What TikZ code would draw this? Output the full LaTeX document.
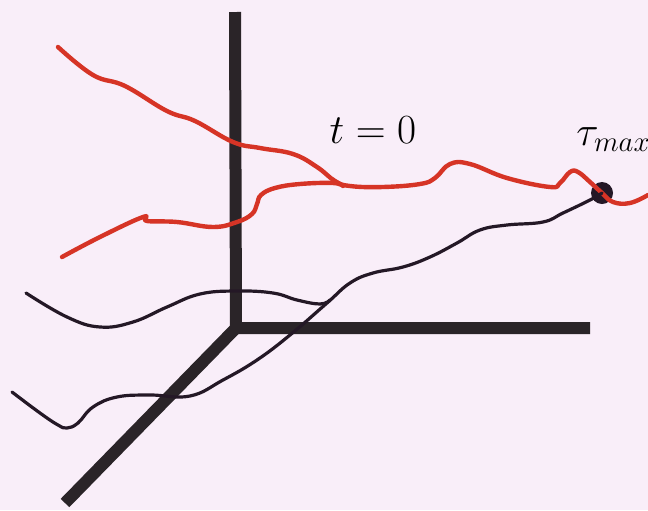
\documentclass[tikz,border=0pt]{standalone}
\definecolor{bgpink}{RGB}{249,238,249}
\definecolor{pathred}{RGB}{214,52,38}
\definecolor{pathdark}{RGB}{36,24,38}
\definecolor{axisdark}{RGB}{42,36,40}
\begin{document}
\begin{tikzpicture}[
    x=0.5pt, y=-0.5pt,
    axis/.style={draw=axisdark, line width=6pt},
    redpath/.style={draw=pathred, line width=2.2pt, line join=round, line cap=round},
    darkpath/.style={draw=pathdark, line width=1.6pt, line join=round, line cap=round},
    dot/.style={circle, fill=pathdark, inner sep=0pt, minimum size=11pt},
    lbl/.style={font=\fontsize{20}{24}\selectfont, inner sep=0pt}
    ]

    \fill[bgpink] (0,0) rectangle (648,510);
    \useasboundingbox (0,0) rectangle (648,510);

    \coordinate (O) at (236,328);
    \coordinate (Z) at (235,12);
    \coordinate (X) at (590,328);
    \coordinate (Y) at (65,503);

    \draw[axis] (Z) -- (O) -- (X);
    \draw[axis] (O) -- (Y);

    \node[dot] (tmax) at (602,193) {};
    \node[lbl, anchor=base] (t0) at (373,143) {\(t=0\)};
    \node[lbl, anchor=base west] (taumax) at (576,145) {\(\tau_{max}\)};

    \draw[redpath] plot[smooth, tension=0.7] coordinates {(58,47) (93,75) (125,86)
        (167,111) (195,121) (233,142) (260,148) (293,154) (317,167) (335,181)
        (350,186) (383,187) (420,184) (435,178) (450,164) (470,164) (507,178) (550,187)
        (560,183) (570,172) (578,172) (590,182) (tmax.center) (613,202) (630,203) (648,195)};
    \draw[redpath] plot[smooth, tension=0.7] coordinates {(62,257) (100,237) (143,217) (147,221)
        (177,222) (213,227) (237,222) (252,214) (257,204) (261,195) (275,188) (300,184)
        (333,183) (343,186)};

    \draw[darkpath] plot[smooth, tension=0.7] coordinates {(26,293) (67,317) (100,327) (133,322)
        (167,307) (200,294) (237,291) (273,293) (297,300) (320,304) (330,300)};
    \draw[darkpath] plot[smooth, tension=0.7] coordinates {(12,392) (40,413) (58,425) (67,428)
        (78,423) (93,407) (117,397) (150,395) (190,396) (223,380) (257,360) (290,335)
        (327,303) (350,283) (373,273) (403,267) (430,257) (457,243) (480,230)
        (507,225) (543,222) (563,213) (590,200) (tmax.center)};

\end{tikzpicture}
\end{document}
